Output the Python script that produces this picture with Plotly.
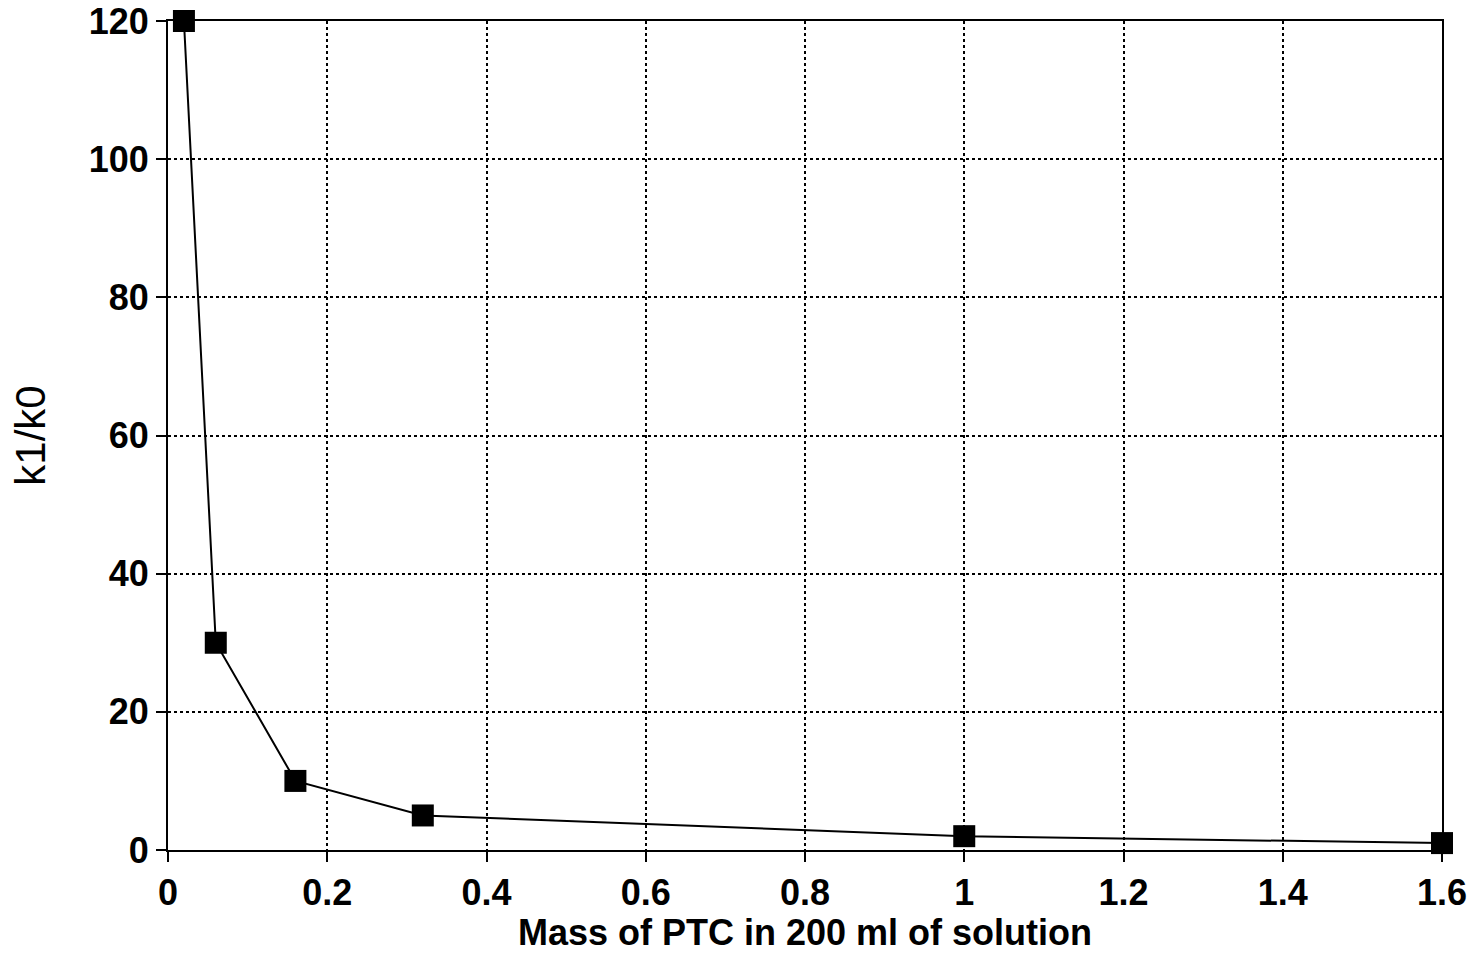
import plotly.graph_objects as go

# PTC mass (g in 200 ml) and the rate-constant ratio k1/k0
ptc_mass = [0.02, 0.06, 0.16, 0.32, 1.0, 1.6]
k_ratio = [120, 30, 10, 5, 2, 1]

x_ticks = [0, 0.2, 0.4, 0.6, 0.8, 1, 1.2, 1.4, 1.6]
x_tick_text = ["0", "0.2", "0.4", "0.6", "0.8", "1", "1.2", "1.4", "1.6"]
y_ticks = [0, 20, 40, 60, 80, 100, 120]

fig = go.Figure()
fig.add_trace(go.Scatter(
    x=ptc_mass, y=k_ratio, mode="lines+markers",
    line=dict(color="black", width=2),
    marker=dict(symbol="square", size=22, color="black"),
    cliponaxis=False, showlegend=False,
))

axis_font = dict(family="Liberation Sans, Arial, sans-serif", size=36,
                 color="black", weight="bold")
ytitle_font = dict(family="Liberation Sans, Arial, sans-serif", size=42,
                   color="black", weight="normal")
fig.update_layout(
    width=1480, height=953,
    margin=dict(l=168, r=38, t=21, b=103),
    paper_bgcolor="white", plot_bgcolor="white",
    font=axis_font,
)
fig.update_xaxes(
    range=[0, 1.6], tickvals=x_ticks, ticktext=x_tick_text,
    showgrid=True, gridcolor="black", griddash="dot", gridwidth=1.5,
    showline=True, linecolor="black", linewidth=2, mirror=True,
    ticks="outside", ticklen=10, tickwidth=2, tickcolor="black",
    zeroline=False, tickfont=axis_font, automargin=False,
    title=dict(text="Mass of PTC in 200 ml of solution", font=axis_font, standoff=6),
)
fig.update_yaxes(
    range=[0, 120], tickvals=y_ticks,
    showgrid=True, gridcolor="black", griddash="dot", gridwidth=1.5,
    showline=True, linecolor="black", linewidth=2, mirror=True,
    ticks="outside", ticklen=10, tickwidth=2, tickcolor="black",
    zeroline=False, tickfont=axis_font, automargin=False,
    title=dict(text="k1/k0", font=ytitle_font, standoff=30),
)

fig.write_html("out.html")
